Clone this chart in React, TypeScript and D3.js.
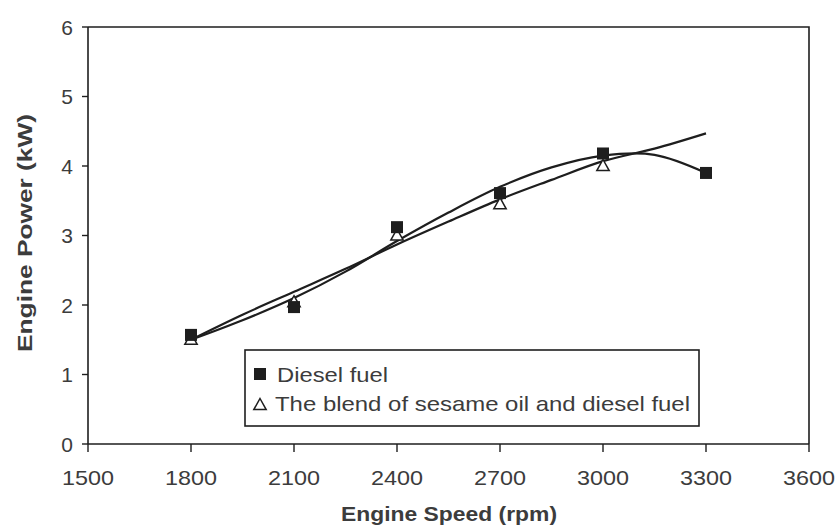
import React from "react";
import * as d3 from "d3";

// Measured engine power (kW) at each engine speed (rpm)
const speeds = [1800, 2100, 2400, 2700, 3000, 3300];
const dieselPower = [1.57, 1.97, 3.12, 3.61, 4.18, 3.9];
const blendSpeeds = [1800, 2100, 2400, 2700, 3000];
const blendPower = [1.5, 2.04, 3.0, 3.45, 4.0];

// Trend-line values sampled along each fitted curve
const trendSpeeds = [1800, 1950, 2100, 2250, 2400, 2550, 2700, 2850, 3000, 3150, 3300];
const dieselTrend = [1.5, 1.78, 2.1, 2.48, 2.92, 3.33, 3.7, 3.98, 4.15, 4.16, 3.9];
const blendTrend = [1.5, 1.86, 2.19, 2.52, 2.87, 3.2, 3.52, 3.8, 4.07, 4.25, 4.47];

const xTicks = [1500, 1800, 2100, 2400, 2700, 3000, 3300, 3600];
const yTicks = [0, 1, 2, 3, 4, 5, 6];

const legendLabels = ["Diesel fuel", "The blend of sesame oil and diesel fuel"];

const W = 837;
const H = 527;
const ink = "#1e1e1e";
const textGray = "#3c3c3c";
const font = "'Liberation Sans', Arial, sans-serif";

export default function App() {
  const x = d3.scaleLinear().domain([1500, 3600]).range([88, 809]);
  const y = d3.scaleLinear().domain([0, 6]).range([444, 27]);

  const line = d3
    .line<[number, number]>()
    .x((d) => x(d[0]))
    .y((d) => y(d[1]))
    .curve(d3.curveCatmullRom.alpha(0.5));

  const dieselPath = line(trendSpeeds.map((s, i) => [s, dieselTrend[i]]) as [number, number][]) || "";
  const blendPath = line(trendSpeeds.map((s, i) => [s, blendTrend[i]]) as [number, number][]) || "";

  const sq = 12;
  const tri = (cx: number, cy: number, r: number) =>
    `M${cx},${cy - r} L${cx + r * 0.95},${cy + r * 0.7} L${cx - r * 0.95},${cy + r * 0.7} Z`;

  const [x0, x1] = x.range();
  const [yb, yt] = y.range();

  return (
    <svg
      width={W}
      height={H}
      style={{ position: "absolute", left: 0, top: 0, background: "#fff" }}
      fontFamily={font}
    >
      {/* plot frame */}
      <path d={`M${x0},${yt} H${x1} V${yb}`} fill="none" stroke={ink} strokeWidth={1.6} />
      <line x1={x0} y1={yt} x2={x0} y2={yb} stroke={ink} strokeWidth={1.6} />
      <line x1={x0} y1={yb} x2={x1} y2={yb} stroke={ink} strokeWidth={1.6} />

      {/* y axis ticks and labels */}
      {yTicks.map((t) => (
        <g key={`y${t}`}>
          <line x1={x0 - 6} x2={x0} y1={y(t)} y2={y(t)} stroke={ink} strokeWidth={1.4} />
          <text x={73} y={y(t)} dy="0.36em" textAnchor="end" fontSize={21} fill={textGray}>
            {t}
          </text>
        </g>
      ))}

      {/* x axis ticks and labels */}
      {xTicks.map((t) => (
        <g key={`x${t}`}>
          <line x1={x(t)} x2={x(t)} y1={yb} y2={yb + 8} stroke={ink} strokeWidth={1.4} />
          <text
            x={x(t)}
            y={485}
            textAnchor="middle"
            fontSize={21}
            fill={textGray}
            textLength={52}
            lengthAdjust="spacingAndGlyphs"
          >
            {t}
          </text>
        </g>
      ))}

      {/* axis titles */}
      <text
        x={449}
        y={521}
        textAnchor="middle"
        fontSize={21}
        fontWeight="bold"
        fill={textGray}
        textLength={216}
        lengthAdjust="spacingAndGlyphs"
      >
        Engine Speed (rpm)
      </text>
      <text
        transform="translate(32,233) rotate(-90)"
        textAnchor="middle"
        fontSize={21}
        fontWeight="bold"
        fill={textGray}
        textLength={238}
        lengthAdjust="spacingAndGlyphs"
      >
        Engine Power (kW)
      </text>

      {/* trend lines */}
      <path d={dieselPath} fill="none" stroke={ink} strokeWidth={2.2} />
      <path d={blendPath} fill="none" stroke={ink} strokeWidth={2.2} />

      {/* measured points */}
      {blendSpeeds.map((s, i) => (
        <path
          key={`b${s}`}
          d={tri(x(s), y(blendPower[i]), 6.5)}
          fill="#fff"
          stroke={ink}
          strokeWidth={1.5}
        />
      ))}
      {speeds.map((s, i) => (
        <rect
          key={`d${s}`}
          x={x(s) - sq / 2}
          y={y(dieselPower[i]) - sq / 2}
          width={sq}
          height={sq}
          fill={ink}
        />
      ))}

      {/* legend */}
      <rect x={245} y={350} width={454} height={76} fill="#fff" stroke={ink} strokeWidth={1.6} />
      <rect x={254} y={368} width={12} height={12} fill={ink} />
      <path d={tri(260, 405, 6.5)} fill="#fff" stroke={ink} strokeWidth={1.5} />
      <text x={277} y={382} fontSize={21} fill={textGray} textLength={111} lengthAdjust="spacingAndGlyphs">
        {legendLabels[0]}
      </text>
      <text x={275} y={411} fontSize={21} fill={textGray} textLength={415} lengthAdjust="spacingAndGlyphs">
        {legendLabels[1]}
      </text>
    </svg>
  );
}
